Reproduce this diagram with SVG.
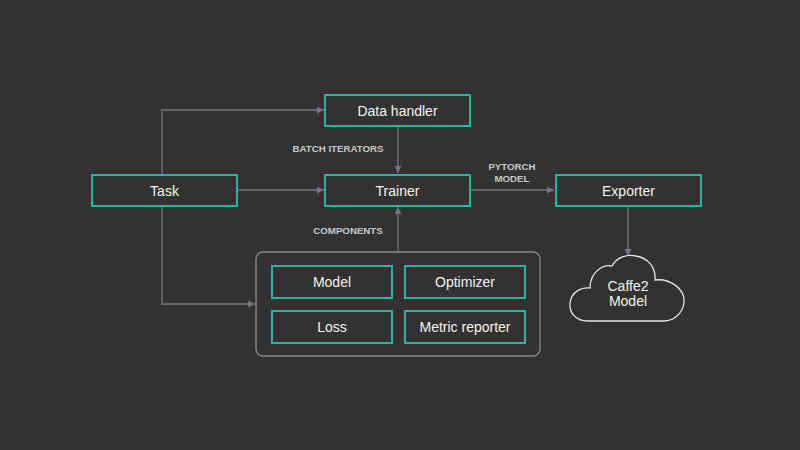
<svg xmlns="http://www.w3.org/2000/svg" width="800" height="450" viewBox="0 0 800 450">
<defs>
<marker id="ah" markerWidth="8" markerHeight="8" refX="7" refY="4" orient="auto" markerUnits="userSpaceOnUse">
<path d="M0,0.5 L7,4 L0,7.5 Z" fill="#77737f"/>
</marker>
<style>
.box{fill:#323232;stroke:#2ab3a3;stroke-width:2}
.t{font-family:"Liberation Sans",Arial,sans-serif;font-size:14px;fill:#f2f2f2;text-anchor:middle}
.lbl{font-family:"Liberation Sans",Arial,sans-serif;font-size:9.7px;font-weight:bold;fill:#c9c9c9;text-anchor:middle}
.c{fill:none;stroke:#77737f;stroke-width:1.3}
</style>
</defs>
<rect width="800" height="450" fill="#323232"/>
<g id="connectors">
<path class="c" d="M162,174 V110 H324" marker-end="url(#ah)"/>
<path class="c" d="M237,190 H324" marker-end="url(#ah)"/>
<path class="c" d="M162,206 V304 H255" marker-end="url(#ah)"/>
<path class="c" d="M398,126 V173" marker-end="url(#ah)"/>
<path class="c" d="M398,252 V207" marker-end="url(#ah)"/>
<path class="c" d="M470,190 H554" marker-end="url(#ah)"/>
<path class="c" d="M628,206 V256" marker-end="url(#ah)"/>
<text class="lbl" x="338" y="152">BATCH ITERATORS</text>
<text class="lbl" x="512" y="170">PYTORCH</text>
<text class="lbl" x="512" y="182">MODEL</text>
<text class="lbl" x="348" y="234">COMPONENTS</text>
</g>
<g id="task"><rect class="box" x="92" y="175" width="145" height="31"/><text class="t" x="164.5" y="195.5">Task</text></g>
<g id="data-handler"><rect class="box" x="325" y="95" width="145" height="31"/><text class="t" x="397.5" y="115.5">Data handler</text></g>
<g id="trainer"><rect class="box" x="325" y="175" width="145" height="31"/><text class="t" x="397.5" y="195.5">Trainer</text></g>
<g id="exporter"><rect class="box" x="556" y="175" width="145" height="31"/><text class="t" x="628.5" y="195.5">Exporter</text></g>
<g id="components"><rect x="256" y="252" width="284" height="104" rx="7" fill="none" stroke="#8a8890" stroke-width="1.3"/></g>
<g id="model"><rect class="box" x="272" y="266" width="120" height="32"/><text class="t" x="332" y="287">Model</text></g>
<g id="optimizer"><rect class="box" x="405" y="266" width="120" height="32"/><text class="t" x="465" y="287">Optimizer</text></g>
<g id="loss"><rect class="box" x="272" y="311" width="120" height="32"/><text class="t" x="332" y="332">Loss</text></g>
<g id="metric-reporter"><rect class="box" x="405" y="311" width="120" height="32"/><text class="t" x="465" y="332">Metric reporter</text></g>
<g id="caffe2-model">
<path d="M588,321 C575,321 569,312 570,303 C571,293 580,287 590,288 C590,273 602,264 612,266 C617,257 627,254 636,256 C648,258 656,267 655,280 C670,278 685,289 684,302 C683,314 673,321 664,321 Z" fill="none" stroke="#e6e6e6" stroke-width="1.3"/>
<text class="t" x="628" y="291">Caffe2</text>
<text class="t" x="628" y="306">Model</text>
</g>
</svg>
